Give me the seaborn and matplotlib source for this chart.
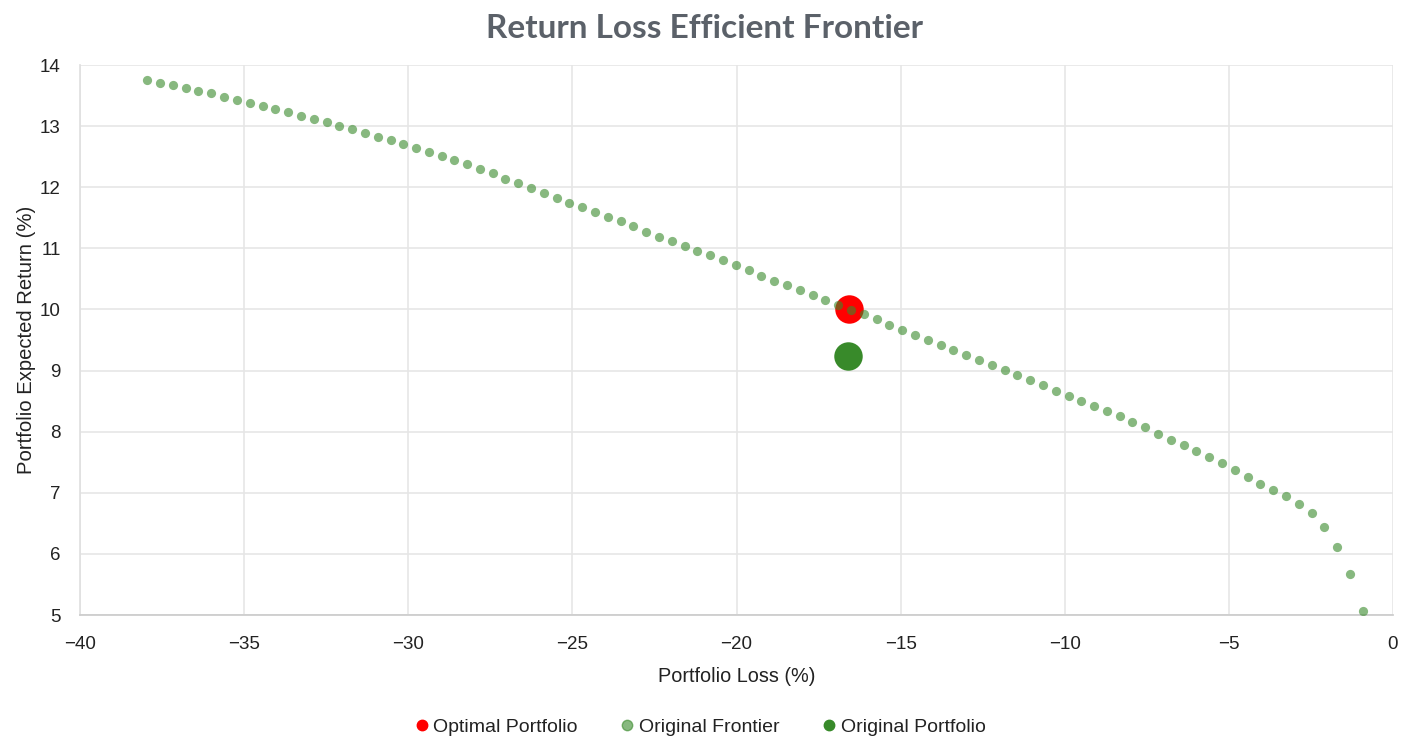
import matplotlib
matplotlib.use("Agg")
import matplotlib.pyplot as plt
from matplotlib.lines import Line2D
import seaborn as sns
import pandas as pd

# Original frontier (portfolio loss %, expected return %)
frontier_loss = [
    -37.95, -37.56, -37.17, -36.78, -36.39, -36.00, -35.61, -35.22, -34.83, -34.44,
    -34.05, -33.66, -33.27, -32.88, -32.49, -32.10, -31.71, -31.32, -30.93, -30.54,
    -30.15, -29.76, -29.37, -28.98, -28.60, -28.21, -27.82, -27.43, -27.04, -26.65,
    -26.26, -25.87, -25.48, -25.09, -24.70, -24.31, -23.92, -23.53, -23.14, -22.75,
    -22.36, -21.97, -21.58, -21.19, -20.80, -20.41, -20.02, -19.63, -19.24, -18.85,
    -18.46, -18.07, -17.68, -17.29, -16.90, -16.51, -16.12, -15.73, -15.34, -14.95,
    -14.56, -14.17, -13.78, -13.39, -13.00, -12.61, -12.22, -11.83, -11.44, -11.05,
    -10.66, -10.27, -9.88, -9.50, -9.11, -8.72, -8.33, -7.94, -7.55, -7.16,
    -6.77, -6.38, -5.99, -5.60, -5.21, -4.82, -4.43, -4.04, -3.65, -3.26,
    -2.87, -2.48, -2.09, -1.70, -1.31, -0.92,
]
frontier_return = [
    13.75, 13.71, 13.67, 13.62, 13.57, 13.54, 13.48, 13.43, 13.38, 13.33,
    13.28, 13.23, 13.17, 13.12, 13.06, 13.00, 12.95, 12.89, 12.82, 12.77,
    12.70, 12.64, 12.58, 12.51, 12.45, 12.38, 12.30, 12.23, 12.14, 12.07,
    11.99, 11.91, 11.83, 11.75, 11.67, 11.59, 11.51, 11.44, 11.36, 11.27,
    11.19, 11.12, 11.04, 10.96, 10.89, 10.81, 10.72, 10.64, 10.55, 10.47,
    10.40, 10.32, 10.24, 10.16, 10.08, 9.99, 9.92, 9.84, 9.75, 9.67,
    9.59, 9.50, 9.42, 9.34, 9.26, 9.18, 9.09, 9.01, 8.93, 8.84,
    8.76, 8.67, 8.59, 8.51, 8.42, 8.34, 8.25, 8.16, 8.07, 7.97,
    7.87, 7.78, 7.69, 7.59, 7.49, 7.38, 7.26, 7.15, 7.04, 6.94,
    6.82, 6.67, 6.44, 6.12, 5.67, 5.07,
]

optimal_loss = [-16.58]
optimal_return = [10.00]
original_loss = [-16.61]
original_return = [9.24]

series_names = ["Optimal Portfolio", "Original Frontier", "Original Portfolio"]
x_ticks = [-40, -35, -30, -25, -20, -15, -10, -5, 0]
y_ticks = [5, 6, 7, 8, 9, 10, 11, 12, 13, 14]

RED = "#ff0000"
GREEN = "#388a2a"

sns.set_theme(style="whitegrid")
plt.rcParams["font.family"] = ["Liberation Sans", "DejaVu Sans"]

fig = plt.figure(figsize=(14.08, 7.38), dpi=100)
ax = fig.add_axes([80 / 1408, 1 - 615 / 738, 1313 / 1408, 550 / 738])

df_front = pd.DataFrame({"loss": frontier_loss, "ret": frontier_return})
df_opt = pd.DataFrame({"loss": optimal_loss, "ret": optimal_return})
df_orig = pd.DataFrame({"loss": original_loss, "ret": original_return})

sns.scatterplot(data=df_opt, x="loss", y="ret", ax=ax, color=RED, s=420,
                linewidth=0, zorder=3)
sns.scatterplot(data=df_front, x="loss", y="ret", ax=ax, color=GREEN, alpha=0.6,
                s=44, linewidth=0, zorder=4)
sns.scatterplot(data=df_orig, x="loss", y="ret", ax=ax, color=GREEN, s=420,
                linewidth=0, zorder=3)

ax.set_xlim(-40, 0)
ax.set_ylim(5, 14)
ax.set_xticks(x_ticks)
ax.set_yticks(y_ticks)
ax.grid(True, color="#e6e6e6", linewidth=1.2)
ax.set_axisbelow(True)
for side in ["top", "right"]:
    ax.spines[side].set_visible(False)
ax.spines["left"].set_color("#e0e0e0")
ax.spines["bottom"].set_color("#cccccc")
ax.tick_params(axis="both", labelsize=13.5, colors="#222222", length=0)
ax.tick_params(axis="y", pad=14)
ax.tick_params(axis="x", pad=15)

ax.set_xlabel("Portfolio Loss (%)", fontsize=14.3, color="#222222", labelpad=10)
ax.set_ylabel("Portfolio Expected Return (%)", fontsize=14.6, color="#222222", labelpad=3)

fig.text(0.5, 1 - 28 / 738, "Return Loss Efficient Frontier", ha="center", va="center",
         fontsize=24, fontweight="bold", color="#5b6169", family=["Lato", "DejaVu Sans"])

handles = [
    Line2D([], [], marker="o", linestyle="", color=RED, markersize=7.5),
    Line2D([], [], marker="o", linestyle="", color=GREEN, alpha=0.6, markersize=7.5),
    Line2D([], [], marker="o", linestyle="", color=GREEN, markersize=7.5),
]
fig.legend(handles, series_names, loc="center", bbox_to_anchor=(0.4957, 1 - 727 / 738),
           ncol=3, frameon=False, fontsize=14, handletextpad=0.0, handlelength=1.2,
           columnspacing=1.95, labelcolor="#222222")

fig.savefig("out.png", dpi=100)
